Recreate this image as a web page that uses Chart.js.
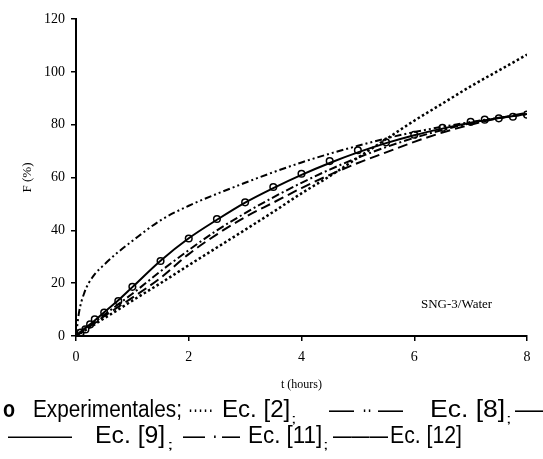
<!DOCTYPE html>
<html>
<head>
<meta charset="utf-8">
<script src="https://cdn.jsdelivr.net/npm/chart.js@4/dist/chart.umd.min.js"></script>
<style>
  html, body { margin: 0; padding: 0; background: #fff; }
  #wrap { position: relative; width: 543px; height: 459px; overflow: hidden; }
  #chart { position: absolute; left: 0; top: 0; }
  .piece {
    position: absolute; white-space: pre;
    font-family: 'Liberation Sans', Arial, sans-serif; font-size: 23px; line-height: 23px;
    color: #000; transform-origin: 0 0;
  }
</style>
</head>
<body>
<div id="wrap">
  <canvas id="chart" width="543" height="459"></canvas>
</div>
<script>
// experimental points
const tExp = [0, 0.083, 0.167, 0.25, 0.333, 0.5, 0.75, 1, 1.5, 2, 2.5, 3, 3.5, 4, 4.5, 5, 5.5, 6, 6.5, 7, 7.25, 7.5, 7.75, 8];
const fExp = [0.3, 1.3, 2.5, 4.4, 6.3, 8.9, 13.2, 18.6, 28.4, 36.9, 44.3, 50.6, 56.4, 61.4, 66.2, 70.3, 73.3, 76.2, 78.8, 81.1, 81.9, 82.4, 83, 83.8];

// model curves
const tModel = [0, 0.05, 0.15, 0.3, 0.5, 0.75, 1, 1.5, 2, 2.5, 3, 3.5, 4, 4.5, 5, 5.5, 6, 6.5, 7, 7.5, 8];
const fEc2  = [0, 0.6, 2, 4, 6.7, 10, 13.4, 20, 26.8, 33.5, 40.2, 47, 54, 60.5, 67.5, 74.5, 81.5, 88, 94.5, 100.5, 106.5];
const fEc8  = [0, 8.5, 16.5, 22.5, 27, 31.8, 36, 43.8, 49.3, 53.8, 58, 62, 65.7, 69, 72, 74.8, 77.2, 79.2, 81, 82.6, 84];
const fEc9  = [0, 0.7, 2.2, 4.4, 7.5, 11, 14.5, 22, 31, 38.5, 45, 50.5, 56, 61, 65.5, 69.5, 73.5, 77, 80, 82.5, 84.5];
const fEc11 = [0, 0.8, 2.4, 4.8, 8, 12, 16, 24.5, 32.5, 40, 46.5, 52.5, 58, 63, 67.5, 71.5, 75, 78, 80.5, 82.5, 84];
const fEc12 = [0, 1, 2.8, 5.3, 9, 13.5, 18.5, 28.5, 37, 44, 50.5, 56, 61, 65.5, 69.5, 73, 76, 78.5, 80.7, 82.5, 84];

const xTicks = [0, 2, 4, 6, 8];
const yTicks = [0, 20, 40, 60, 80, 100, 120];

const pts = (xs, ys) => xs.map((x, i) => ({ x, y: ys[i] }));

const curve = (label, values, dash, width) => ({
  label,
  data: pts(tModel, values),
  borderColor: '#000',
  borderWidth: width || 2,
  borderDash: dash,
  borderCapStyle: 'butt',
  pointRadius: 0,
  fill: false,
  cubicInterpolationMode: 'monotone',
});

const serif = 'Liberation Serif, Times New Roman, serif';

const noteText = {
  id: 'noteText',
  afterDraw(chart) {
    const { ctx, scales } = chart;
    ctx.save();
    ctx.font = '13px ' + serif;
    ctx.fillStyle = '#000';
    ctx.textAlign = 'center';
    ctx.textBaseline = 'middle';
    ctx.fillText('SNG-3/Water', scales.x.getPixelForValue(6.75), scales.y.getPixelForValue(12));
    ctx.restore();
  },
};

new Chart(document.getElementById('chart'), {
  type: 'line',
  data: {
    datasets: [
      curve('Ec. [2]', fEc2, [2.5, 2.5], 2.5),
      curve('Ec. [8]', fEc8, [7, 3, 2, 3, 2, 3]),
      curve('Ec. [9]', fEc9, [10, 5]),
      curve('Ec. [11]', fEc11, [8, 3, 2, 3]),
      curve('Ec. [12]', fEc12, []),
      {
        label: 'Experimentales',
        data: pts(tExp, fExp),
        showLine: false,
        pointRadius: 3.3,
        pointBorderWidth: 1.5,
        pointBorderColor: '#000',
        pointBackgroundColor: '#fff',
      },
    ],
  },
  options: {
    responsive: false,
    animation: false,
    layout: { padding: { left: 0, right: 16, top: 19, bottom: 63 } },
    plugins: { legend: { display: false }, tooltip: { enabled: false } },
    scales: {
      x: {
        type: 'linear',
        min: 0,
        max: 8,
        afterBuildTicks: (s) => { s.ticks = xTicks.map((v) => ({ value: v })); },
        afterFit: (s) => { s.height = 60; },
        border: { color: '#000', width: 2 },
        grid: { drawOnChartArea: false, color: '#000', tickLength: 5, lineWidth: 1.5 },
        ticks: { color: '#000', font: { family: serif, size: 14 }, padding: 8, maxRotation: 0 },
        title: { display: true, text: 't (hours)', color: '#000', font: { family: serif, size: 12 }, padding: { top: 10 } },
      },
      y: {
        min: 0,
        max: 120,
        afterBuildTicks: (s) => { s.ticks = yTicks.map((v) => ({ value: v })); },
        afterFit: (s) => { s.width = 76; },
        border: { color: '#000', width: 2 },
        grid: { drawOnChartArea: false, color: '#000', tickLength: 5, lineWidth: 1.5 },
        ticks: { color: '#000', font: { family: serif, size: 14 }, padding: 6 },
        title: { display: true, text: 'F (%)', color: '#000', font: { family: serif, size: 13 }, padding: { top: 20 } },
      },
    },
  },
  plugins: [noteText],
});

// caption under the chart: [text, left, right, top, extra style]
const caption = [
  ['o', 3, 15, 398, 'font-weight:bold'],
  ['Experimentales;', 33, 182, 398],
  ['·····', 188, 213, 398],
  ['Ec. [2]', 222, 290, 398],
  [';', 291, 296, 398, 'font-size:12px;top:408px'],
  ['—', 329, 354, 398],
  ['··', 362, 372, 398],
  ['—', 378, 403, 398],
  ['Ec. [8]', 430, 505, 398],
  [';', 506, 511, 398, 'font-size:12px;top:408px'],
  ['—', 515, 543, 398],
  ['——', 8, 72, 424],
  ['Ec. [9]', 95, 165, 424],
  [';', 167, 173, 424, 'font-size:12px;top:434px'],
  ['—', 183, 205, 424],
  ['·', 212, 218, 424],
  ['—', 222, 240, 424],
  ['Ec. [11]', 248, 322, 424],
  [';', 323, 328, 424, 'font-size:12px;top:434px'],
  ['———', 333, 388, 424],
  ['Ec. [12]', 390, 462, 424],
];

const wrap = document.getElementById('wrap');
caption.forEach(([text, left, right, top, extra]) => {
  const span = document.createElement('span');
  span.className = 'piece';
  span.textContent = text;
  span.style.cssText = `left:${left}px;top:${top}px;` + (extra || '');
  wrap.appendChild(span);
  span.style.transform = `scaleX(${(right - left) / span.offsetWidth})`;
});
</script>
</body>
</html>
